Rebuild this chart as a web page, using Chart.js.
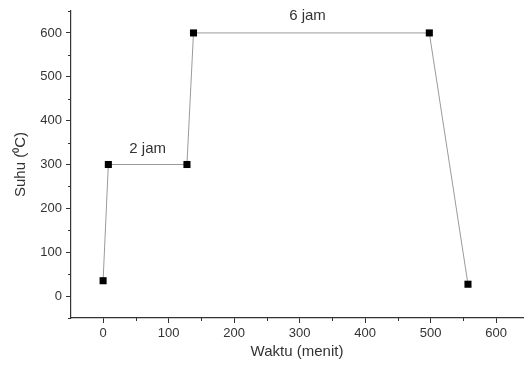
<!DOCTYPE html>
<html>
<head>
<meta charset="utf-8">
<script src="https://cdn.jsdelivr.net/npm/chart.js@4"></script>
<style>
  html, body { margin: 0; padding: 0; background: #fff; }
  #wrap { width: 528px; height: 365px; }
</style>
</head>
<body>
<div id="wrap"><canvas id="c" width="528" height="365"></canvas></div>
<script>
// heating profile (time in minutes, temperature in °C)
const waktu = [0, 8, 128, 138, 498, 557];
const suhu = [35, 300, 300, 600, 600, 27];

// major tick values on both axes
const xTicks = [0, 100, 200, 300, 400, 500, 600];
const yTicks = [0, 100, 200, 300, 400, 500, 600];

// segment annotations: [text, x, y] in data units
const notes = [
  ['2 jam', 68, 336],
  ['6 jam', 312, 640]
];

const FONT = '"Liberation Sans", Arial, sans-serif';
const INK = '#333';

// minor ticks halfway between the major ones
const minorTicks = {
  id: 'minorTicks',
  afterDraw(chart) {
    const ctx = chart.ctx;
    const xs = chart.scales.x, ys = chart.scales.y;
    ctx.save();
    ctx.strokeStyle = INK;
    ctx.lineWidth = 1;
    ctx.beginPath();
    for (let v = -50; v <= 650; v += 100) {
      if (v >= xs.min && v <= xs.max) {
        const px = Math.round(xs.getPixelForValue(v)) + 0.5;
        ctx.moveTo(px, xs.top); ctx.lineTo(px, xs.top + 3);
      }
      if (v >= ys.min && v <= ys.max) {
        const py = Math.round(ys.getPixelForValue(v)) + 0.5;
        ctx.moveTo(ys.right, py); ctx.lineTo(ys.right - 3, py);
      }
    }
    ctx.stroke();
    ctx.restore();
  }
};

const labels = {
  id: 'labels',
  afterDatasetsDraw(chart) {
    const ctx = chart.ctx;
    ctx.save();
    ctx.fillStyle = INK;
    ctx.font = '15px ' + FONT;
    ctx.textAlign = 'center';
    ctx.textBaseline = 'middle';
    notes.forEach(([t, x, y]) => {
      ctx.fillText(t, chart.scales.x.getPixelForValue(x), chart.scales.y.getPixelForValue(y));
    });
    ctx.restore();
  }
};

new Chart(document.getElementById('c'), {
  type: 'scatter',
  data: {
    datasets: [{
      data: waktu.map((x, i) => ({ x, y: suhu[i] })),
      showLine: true,
      borderColor: '#9a9a9a',
      borderWidth: 1,
      pointStyle: 'rect',
      pointRadius: 5,
      pointBackgroundColor: '#000',
      pointBorderColor: '#000',
      pointBorderWidth: 0
    }]
  },
  options: {
    responsive: false,
    animation: false,
    layout: { padding: { top: 11, right: 0, left: 8, bottom: 0 } },
    plugins: { legend: { display: false }, tooltip: { enabled: false } },
    scales: {
      x: {
        type: 'linear', min: -49, max: 641,
        afterBuildTicks: s => { s.ticks = xTicks.map(v => ({ value: v })); },
        afterFit: s => { s.height = 47; s.paddingLeft = 0; s.paddingRight = 0; },
        border: { color: INK, width: 1.2 },
        grid: { drawOnChartArea: false, tickLength: 5, color: INK },
        ticks: { color: INK, font: { size: 13, family: FONT }, padding: 3, maxRotation: 0 },
        title: { display: true, text: 'Waktu (menit)', color: INK, font: { size: 15, family: FONT }, padding: { top: 2 } }
      },
      y: {
        type: 'linear', min: -50, max: 650,
        afterBuildTicks: s => { s.ticks = yTicks.map(v => ({ value: v })); },
        afterFit: s => { s.width = 63; s.paddingTop = 0; s.paddingBottom = 0; },
        border: { color: INK, width: 1.2 },
        grid: { drawOnChartArea: false, tickLength: 5, color: INK },
        ticks: { color: INK, font: { size: 13, family: FONT }, padding: 4 },
        title: { display: true, text: 'Suhu (\u2070C)', color: INK, font: { size: 15, family: FONT }, padding: { bottom: 4 } }
      }
    }
  },
  plugins: [minorTicks, labels]
});
</script>
</body>
</html>
